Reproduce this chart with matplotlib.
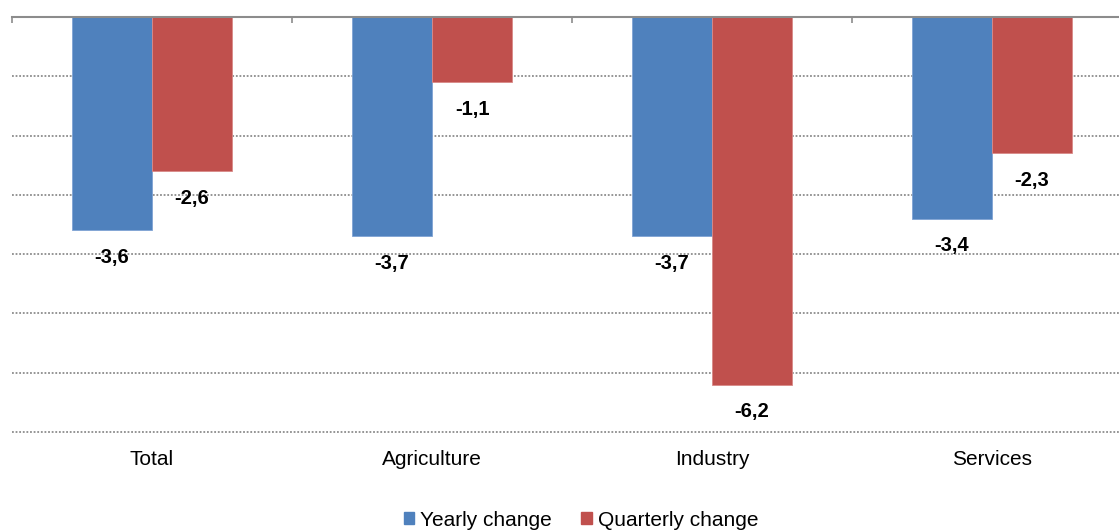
import numpy as np
import matplotlib.pyplot as plt
from matplotlib.patches import Patch

categories = ["Total", "Agriculture", "Industry", "Services"]
yearly = [-3.6, -3.7, -3.7, -3.4]
quarterly = [-2.6, -1.1, -6.2, -2.3]
series_names = ["Yearly change", "Quarterly change"]

BLUE = "#4F81BD"
RED = "#C0504D"

plt.rcParams["font.family"] = ["Liberation Sans", "DejaVu Sans"]

fig = plt.figure(figsize=(11.19, 5.31), dpi=100)
ax = fig.add_axes([12 / 1119, 1 - 432 / 531, 1120 / 1119, 415 / 531])

x = np.arange(len(categories))
w = 80 / 280

b1 = ax.bar(x - w / 2, yearly, w, color=BLUE, edgecolor="#7FA3D4", linewidth=0.6, zorder=3)
b2 = ax.bar(x + w / 2, quarterly, w, color=RED, edgecolor="#D98A88", linewidth=0.6, zorder=3)

# value labels under each bar
for bars, vals in ((b1, yearly), (b2, quarterly)):
    for bar, v in zip(bars, vals):
        ax.annotate(f"{v:.1f}".replace(".", ","),
                    (bar.get_x() + bar.get_width() / 2, v),
                    xytext=(0, -19.5), textcoords="offset points",
                    ha="center", va="center", fontsize=14.5, fontweight="bold")

ax.set_xlim(-0.5, len(categories) - 0.5)
ax.set_ylim(-7, 0)

ax.set_yticks(np.arange(-7, 0))
ax.yaxis.grid(True, linestyle=(0, (1, 1)), color="#8C8C8C", linewidth=1.3, zorder=0)
for gl in ax.yaxis.get_gridlines():
    gl.set_clip_on(False)
ax.tick_params(axis="y", left=False, labelleft=False)

ax.set_xticks(x)
ax.set_xticklabels(categories, fontsize=15)
ax.tick_params(axis="x", which="major", length=0, pad=13)
ax.set_xticks(np.arange(-0.5, len(categories)), minor=True)
ax.tick_params(axis="x", which="minor", top=True, bottom=False, direction="in",
               length=4, width=1.2, color="#8C8C8C")

for s in ("left", "right", "bottom"):
    ax.spines[s].set_visible(False)
ax.spines["top"].set_color("#8C8C8C")
ax.spines["top"].set_linewidth(1.5)
ax.spines["top"].set_zorder(4)

handles = [Patch(color=BLUE), Patch(color=RED)]
fig.legend(handles, series_names, loc="center", bbox_to_anchor=(581 / 1119, 1 - 520 / 531),
           ncol=2, frameon=False, fontsize=15, handlelength=0.5, handleheight=0.5,
           handletextpad=0.3, columnspacing=1.4)

fig.savefig("out.png", dpi=100)
